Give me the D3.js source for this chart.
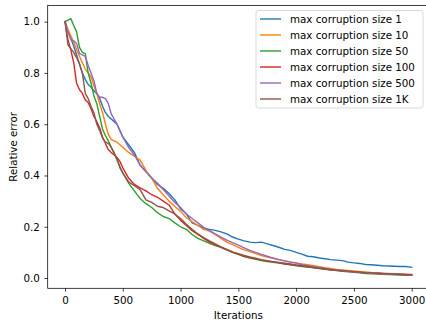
<!DOCTYPE html>
<html>
<head>
<meta charset="utf-8">
<script src="https://cdn.jsdelivr.net/npm/d3@7"></script>
<style>
  html, body { margin: 0; padding: 0; background: #fff; }
  svg { display: block; font-family: "DejaVu Sans", sans-serif; }
</style>
</head>
<body>
<div id="chart"></div>
<script>
// sample points (iterations)
const iters = [0, 25, 50, 75, 100, 125, 150, 175, 200, 225, 250, 275, 300, 325, 350, 375, 400, 425, 450, 475, 500,
  550, 600, 650, 700, 750, 800, 850, 900, 950, 1000, 1050, 1100, 1150, 1200, 1250, 1300, 1350, 1400, 1450, 1500,
  1550, 1600, 1650, 1700, 1750, 1800, 1850, 1900, 1950, 2000, 2050, 2100, 2150, 2200, 2250, 2300, 2350, 2400, 2450, 2500,
  2550, 2600, 2650, 2700, 2750, 2800, 2850, 2900, 2950, 3000];

const size1 = [1.0, 0.965, 0.935, 0.905, 0.87, 0.835, 0.80, 0.775, 0.755, 0.745, 0.73, 0.72, 0.70, 0.67, 0.645, 0.63, 0.62, 0.61, 0.60, 0.575, 0.55,
  0.52, 0.49, 0.44, 0.415, 0.39, 0.365, 0.35, 0.33, 0.305, 0.27, 0.25, 0.215, 0.205, 0.195, 0.19, 0.186, 0.18, 0.172, 0.16, 0.152,
  0.145, 0.14, 0.138, 0.14, 0.133, 0.127, 0.12, 0.112, 0.108, 0.10, 0.093, 0.085, 0.083, 0.078, 0.075, 0.072, 0.07, 0.068, 0.062, 0.059,
  0.057, 0.053, 0.052, 0.05, 0.048, 0.047, 0.046, 0.045, 0.045, 0.042];
const size10 = [1.0, 0.97, 0.945, 0.92, 0.89, 0.865, 0.84, 0.815, 0.80, 0.785, 0.75, 0.72, 0.68, 0.645, 0.60, 0.56, 0.54, 0.535, 0.53, 0.52, 0.51,
  0.49, 0.475, 0.46, 0.42, 0.39, 0.35, 0.325, 0.30, 0.28, 0.26, 0.235, 0.22, 0.205, 0.19, 0.183, 0.17, 0.155, 0.14, 0.13, 0.12,
  0.11, 0.103, 0.095, 0.088, 0.082, 0.077, 0.072, 0.067, 0.063, 0.059, 0.055, 0.052, 0.048, 0.044, 0.04, 0.037, 0.034, 0.032, 0.03, 0.028,
  0.026, 0.024, 0.022, 0.021, 0.019, 0.018, 0.017, 0.016, 0.015, 0.014];
const size50 = [1.0, 1.005, 1.012, 0.985, 0.96, 0.90, 0.88, 0.875, 0.80, 0.76, 0.71, 0.68, 0.63, 0.58, 0.555, 0.535, 0.51, 0.49, 0.46, 0.435, 0.41,
  0.37, 0.34, 0.31, 0.29, 0.275, 0.255, 0.24, 0.232, 0.215, 0.2, 0.19, 0.17, 0.155, 0.145, 0.135, 0.127, 0.12, 0.11, 0.1, 0.092,
  0.084, 0.078, 0.073, 0.068, 0.064, 0.061, 0.058, 0.055, 0.052, 0.048, 0.045, 0.043, 0.04, 0.037, 0.034, 0.031, 0.029, 0.026, 0.024, 0.022,
  0.02, 0.018, 0.017, 0.016, 0.015, 0.014, 0.013, 0.012, 0.011, 0.011];
const size100 = [1.0, 0.93, 0.89, 0.84, 0.76, 0.735, 0.72, 0.695, 0.685, 0.66, 0.63, 0.61, 0.585, 0.55, 0.525, 0.50, 0.49, 0.48, 0.47, 0.455, 0.43,
  0.39, 0.365, 0.352, 0.34, 0.325, 0.315, 0.30, 0.285, 0.25, 0.225, 0.205, 0.185, 0.17, 0.155, 0.14, 0.13, 0.12, 0.11, 0.1, 0.093,
  0.085, 0.08, 0.075, 0.07, 0.066, 0.063, 0.06, 0.056, 0.053, 0.05, 0.047, 0.044, 0.041, 0.038, 0.035, 0.032, 0.03, 0.028, 0.026, 0.024,
  0.022, 0.02, 0.019, 0.018, 0.017, 0.016, 0.015, 0.014, 0.013, 0.012];
const size500 = [1.0, 0.96, 0.93, 0.925, 0.915, 0.875, 0.87, 0.865, 0.83, 0.80, 0.77, 0.72, 0.705, 0.705, 0.70, 0.68, 0.64, 0.62, 0.60, 0.575, 0.55,
  0.51, 0.48, 0.44, 0.415, 0.39, 0.37, 0.345, 0.32, 0.295, 0.275, 0.25, 0.232, 0.215, 0.198, 0.185, 0.172, 0.16, 0.148, 0.138, 0.128,
  0.118, 0.108, 0.1, 0.092, 0.085, 0.078, 0.072, 0.067, 0.062, 0.058, 0.052, 0.048, 0.044, 0.04, 0.037, 0.034, 0.031, 0.029, 0.026, 0.024,
  0.022, 0.021, 0.019, 0.018, 0.017, 0.016, 0.015, 0.014, 0.013, 0.012];
const size1k = [1.0, 0.91, 0.895, 0.88, 0.86, 0.835, 0.80, 0.72, 0.70, 0.67, 0.645, 0.60, 0.575, 0.545, 0.53, 0.525, 0.51, 0.485, 0.465, 0.43, 0.41,
  0.375, 0.36, 0.345, 0.305, 0.295, 0.28, 0.275, 0.262, 0.25, 0.232, 0.21, 0.19, 0.172, 0.158, 0.145, 0.133, 0.122, 0.112, 0.102, 0.095,
  0.088, 0.082, 0.077, 0.072, 0.068, 0.064, 0.061, 0.058, 0.055, 0.051, 0.048, 0.045, 0.042, 0.039, 0.036, 0.033, 0.031, 0.029, 0.027, 0.025,
  0.023, 0.021, 0.02, 0.019, 0.018, 0.017, 0.016, 0.015, 0.014, 0.013];

const seriesNames = ['max corruption size 1', 'max corruption size 10', 'max corruption size 50',
  'max corruption size 100', 'max corruption size 500', 'max corruption size 1K'];
const seriesValues = [size1, size10, size50, size100, size500, size1k];
const colors = ['#1f77b4', '#ff7f0e', '#2ca02c', '#d62728', '#9467bd', '#8c564b'];
const xTicks = [0, 500, 1000, 1500, 2000, 2500, 3000];
const yTicks = [0.0, 0.2, 0.4, 0.6, 0.8, 1.0];

const W = 426, H = 320;
const fontSize = 10.3;
const plot = { left: 47.7, right: 429, top: 5.5, bottom: 288.3 };

const svg = d3.select('#chart').append('svg')
  .attr('width', W)
  .attr('height', H);

const x = d3.scaleLinear().domain([-150, 3150]).range([plot.left, plot.right]);
const y = d3.scaleLinear().domain([-0.04, 1.063]).range([plot.bottom, plot.top]);

// lines
const line = d3.line()
  .x((d, i) => x(iters[i]))
  .y(d => y(d));

svg.append('g')
  .selectAll('path')
  .data(seriesValues)
  .enter()
  .append('path')
  .attr('d', d => line(d))
  .attr('fill', 'none')
  .attr('stroke', (d, i) => colors[i])
  .attr('stroke-width', 1.4)
  .attr('stroke-linejoin', 'round')
  .attr('stroke-linecap', 'square');

// axes
const xAxis = svg.append('g')
  .attr('transform', `translate(0,${plot.bottom})`)
  .call(d3.axisBottom(x).tickValues(xTicks).tickFormat(d3.format('d')).tickSizeOuter(0).tickSize(3.3).tickPadding(5.5));
const yAxis = svg.append('g')
  .attr('transform', `translate(${plot.left},0)`)
  .call(d3.axisLeft(y).tickValues(yTicks).tickFormat(d3.format('.1f')).tickSizeOuter(0).tickSize(3.3).tickPadding(4.5));

[xAxis, yAxis].forEach(a => {
  a.select('.domain').remove();
  a.selectAll('.tick line').attr('stroke', '#000').attr('stroke-width', 0.75);
  a.selectAll('.tick text')
    .attr('font-family', '"DejaVu Sans", sans-serif')
    .attr('font-size', fontSize)
    .attr('fill', '#000');
});

// frame
svg.append('rect')
  .attr('x', plot.left)
  .attr('y', plot.top)
  .attr('width', plot.right - plot.left)
  .attr('height', plot.bottom - plot.top)
  .attr('fill', 'none')
  .attr('stroke', '#000')
  .attr('stroke-width', 0.75);

// axis labels
svg.append('text')
  .attr('x', (plot.left + plot.right) / 2)
  .attr('y', 319)
  .attr('text-anchor', 'middle')
  .attr('font-size', fontSize)
  .attr('fill', '#000')
  .text('Iterations');

svg.append('text')
  .attr('transform', `translate(16.7,${(plot.top + plot.bottom) / 2}) rotate(-90)`)
  .attr('text-anchor', 'middle')
  .attr('font-size', fontSize)
  .attr('fill', '#000')
  .text('Relative error');

// legend
const lg = svg.append('g');
lg.append('rect')
  .attr('x', 256)
  .attr('y', 10.5)
  .attr('width', 167)
  .attr('height', 97.5)
  .attr('rx', 2.5)
  .attr('fill', '#fff')
  .attr('fill-opacity', 0.8)
  .attr('stroke', '#cccccc')
  .attr('stroke-width', 0.75);

const rows = lg.selectAll('.row')
  .data(seriesNames)
  .enter()
  .append('g')
  .attr('transform', (d, i) => `translate(0,${19 + i * 16})`);

rows.append('line')
  .attr('x1', 260)
  .attr('x2', 281)
  .attr('stroke', (d, i) => colors[i])
  .attr('stroke-width', 1.4);

rows.append('text')
  .attr('x', 290)
  .attr('y', 3.6)
  .attr('font-size', fontSize)
  .attr('fill', '#000')
  .text(d => d);
</script>
</body>
</html>
